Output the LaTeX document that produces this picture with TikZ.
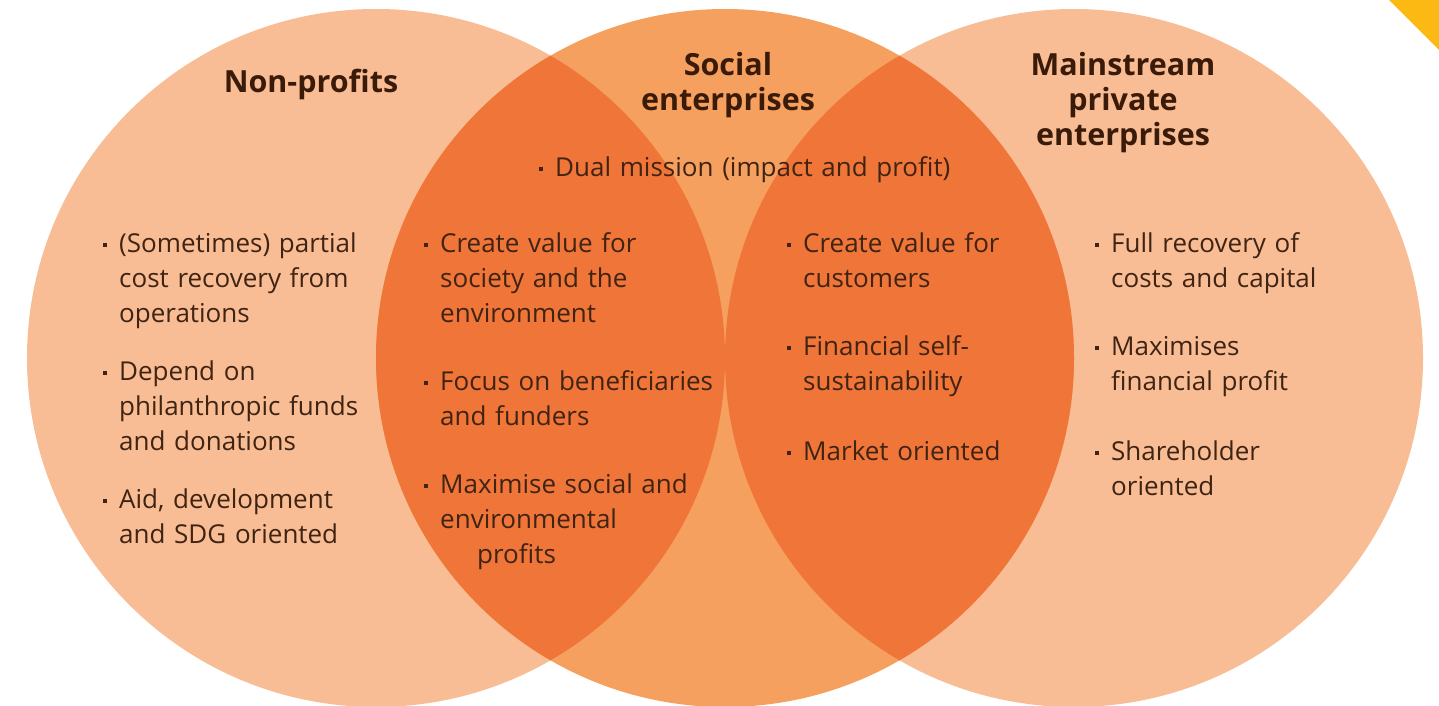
\documentclass[tikz,border=0pt]{standalone}
\usepackage{fontspec}
\setmainfont{Open Sans}
\definecolor{peach}{HTML}{F8BD94}
\definecolor{midorange}{HTML}{F6A060}
\definecolor{deeporange}{HTML}{F07538}
\definecolor{cornergold}{HTML}{FDB913}
\definecolor{inkbrown}{HTML}{3F2313}
\definecolor{headbrown}{HTML}{3A1A08}
% small square bullet hung in the left margin of an item
\newcommand{\sqbul}{\leavevmode\llap{\raisebox{5pt}{\rule{4.2pt}{4.2pt}}\hspace{12.5pt}}}
\begin{document}
\begin{tikzpicture}[x=1pt,y=-1pt,
  bodytext/.style={anchor=base west, inner sep=0pt, text width=500pt, align=left,
    text=inkbrown, font=\fontsize{26}{35}\selectfont},
  headtext/.style={anchor=base, inner sep=0pt, text width=320pt, align=center,
    text=headbrown, font=\fontsize{30.5}{35}\selectfont\bfseries},
]
\clip (0,0) rectangle (1439,705);
\fill[white] (0,0) rectangle (1439,705);

% the three circles
\fill[peach] (376,358) circle (349);
\fill[peach] (1074,358) circle (349);
\fill[midorange] (725,358) circle (349);
\begin{scope}
  \clip (725,358) circle (349);
  \fill[deeporange] (376,358) circle (349);
  \fill[deeporange] (1074,358) circle (349);
\end{scope}

% corner mark
\fill[cornergold] (1389,0) -- (1439,0) -- (1439,50) -- cycle;

% headings
\node[headtext] (hnp) at (311,92) {Non-profits};
\node[headtext] (hse) at (728,75) {Social\\enterprises};
\node[headtext] (hmp) at (1123,75) {Mainstream\\private\\enterprises};

% shared item
\node[bodytext] (dual) at (555,176) {\sqbul Dual mission (impact and profit)};

% non-profits
\node[bodytext] (np1) at (119,252) {\sqbul (Sometimes) partial\\cost recovery from\\operations};
\node[bodytext] (np2) at (119,380) {\sqbul Depend on\\philanthropic funds\\and donations};
\node[bodytext] (np3) at (119,508) {\sqbul Aid, development\\and SDG oriented};

% social side
\node[bodytext] (sl1) at (440,252) {\sqbul Create value for\\society and the\\environment};
\node[bodytext] (sl2) at (440,390) {\sqbul Focus on beneficiaries\\and funders};
\node[bodytext] (sl3) at (440,493) {\sqbul Maximise social and\\environmental\\\hspace*{37pt}profits};

% business side
\node[bodytext] (sr1) at (803,252) {\sqbul Create value for\\customers};
\node[bodytext] (sr2) at (803,355) {\sqbul Financial self-\\sustainability};
\node[bodytext] (sr3) at (803,460) {\sqbul Market oriented};

% mainstream
\node[bodytext] (mp1) at (1111,252) {\sqbul Full recovery of\\costs and capital};
\node[bodytext] (mp2) at (1111,355) {\sqbul Maximises\\financial profit};
\node[bodytext] (mp3) at (1111,460) {\sqbul Shareholder\\oriented};
\end{tikzpicture}
\end{document}
